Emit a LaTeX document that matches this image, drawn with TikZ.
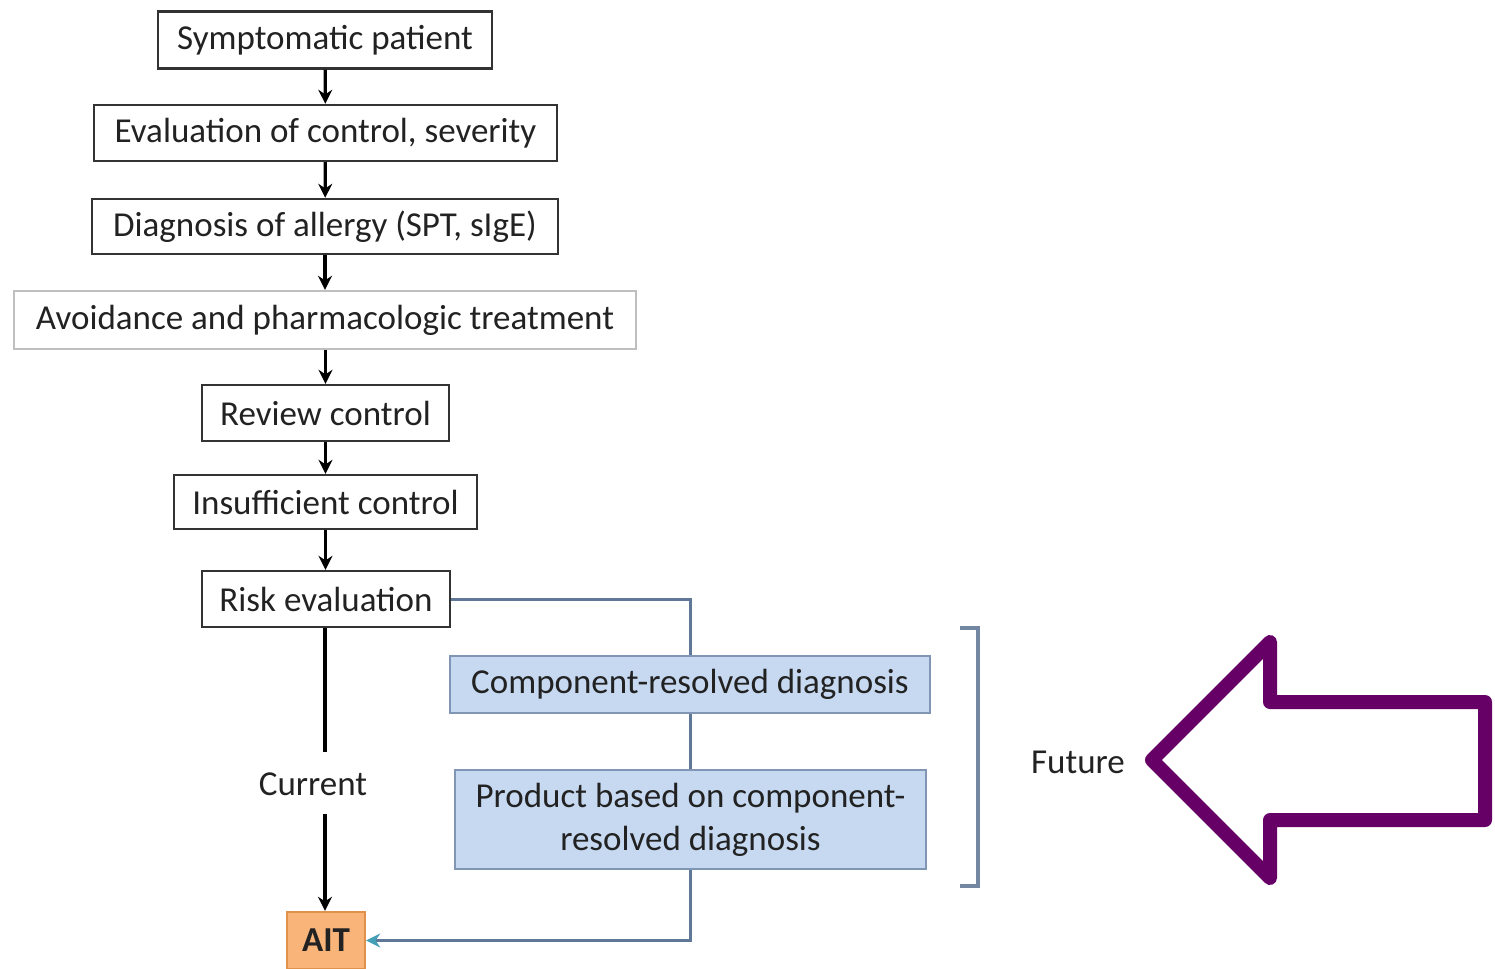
\documentclass[tikz,border=0pt]{standalone}
\usepackage{fontspec}
\setmainfont{Carlito}
\usetikzlibrary{arrows.meta}
\definecolor{txt}{HTML}{222222}
\definecolor{conn}{HTML}{5F7898}
\definecolor{bfill}{HTML}{C6D9F1}
\definecolor{bdraw}{HTML}{8096B4}
\definecolor{ofill}{HTML}{F9B47A}
\definecolor{odraw}{HTML}{E0914C}
\definecolor{purp}{HTML}{660066}
\begin{document}
\begin{tikzpicture}[x=0.5pt,y=-0.5pt,
  every node/.style={font=\fontsize{17.5}{20.5}\selectfont, text=txt},
  flowbox/.style={draw=black!80, line width=1.2pt, fill=white, inner sep=0pt, align=center},
  greybox/.style={draw=black!25, line width=1.2pt, fill=white, inner sep=0pt, align=center},
  bluebox/.style={draw=bdraw, line width=1.2pt, fill=bfill, inner sep=0pt, align=center},
  aitbox/.style={draw=odraw, line width=1.2pt, fill=ofill, inner sep=0pt, font=\fontsize{17.5}{20}\selectfont\bfseries},
  flowarrow/.style={draw=black, line width=1.6pt, -{Stealth[length=7pt,width=7pt]}},
  blueline/.style={draw=conn, line width=1.5pt},
  bluearrow/.style={draw=conn, line width=1.5pt, -{Stealth[length=7pt,width=7pt,color=conn!70!cyan]}}
]
\useasboundingbox (0,0) rectangle (1495,969);
\node[flowbox, minimum width=167pt, minimum height=28.5pt] (sym) at (325,40) {Symptomatic patient};
\node[flowbox, minimum width=231.5pt, minimum height=28pt] (eval) at (325.5,133) {Evaluation of control, severity};
\node[flowbox, minimum width=233pt, minimum height=27.5pt] (diag) at (325,226.5) {Diagnosis of allergy (SPT, sIgE)};
\node[greybox, minimum width=311pt, minimum height=29pt] (avoid) at (325,320) {Avoidance and pharmacologic treatment};
\node[flowbox, minimum width=123.5pt, minimum height=28pt] (review) at (325.5,413) {Review control};
\node[flowbox, minimum width=151.5pt, minimum height=27pt] (insuff) at (325.5,502) {Insufficient control};
\node[flowbox, minimum width=124pt, minimum height=28pt] (risk) at (326,599) {Risk evaluation};
\node[bluebox, minimum width=240pt, minimum height=28.5pt] (comp) at (690,684.5) {Component-resolved diagnosis};
\node[bluebox, minimum width=235.5pt, minimum height=49.5pt] (prod) at (690.5,819.5) {Product based on component-\\[1pt]resolved diagnosis};
\node[aitbox, minimum width=39pt, minimum height=28.5pt] (ait) at (326,940.5) {AIT};
\node[inner sep=2pt] (cur) at (313,784) {Current};
\node (fut) at (1078,762) {Future};

\draw[flowarrow] (sym) -- (eval);
\draw[flowarrow] (eval) -- (diag);
\draw[flowarrow] (diag) -- (avoid);
\draw[flowarrow] (avoid.south -| review.north) -- (review);
\draw[flowarrow] (review) -- (insuff);
\draw[flowarrow] (insuff) -- (risk.north -| insuff.south);
\draw[line width=1.6pt] (risk.south -| 325,0) -- (325,752);
\draw[flowarrow] (325,814) -- (ait.north -| 325,0);

\draw[blueline] (risk.east) -| (comp.north);
\draw[blueline] (comp.south) -- (comp.south |- prod.north);
\draw[bluearrow] (prod.south -| comp.south) |- (ait.east);

\coordinate (b1) at (960,628);
\coordinate (b2) at (960,886);
\draw[draw=bdraw!90!black, line width=1.6pt] (b1) -- ++(18,0) -- ++(0,258) -- (b2);

\draw[draw=purp, line width=7pt, line join=round]
  (1152,760) -- (1270,642) -- (1270,702) -- (1485,702) -- (1485,820) -- (1270,820) -- (1270,878) -- cycle;
\end{tikzpicture}
\end{document}
